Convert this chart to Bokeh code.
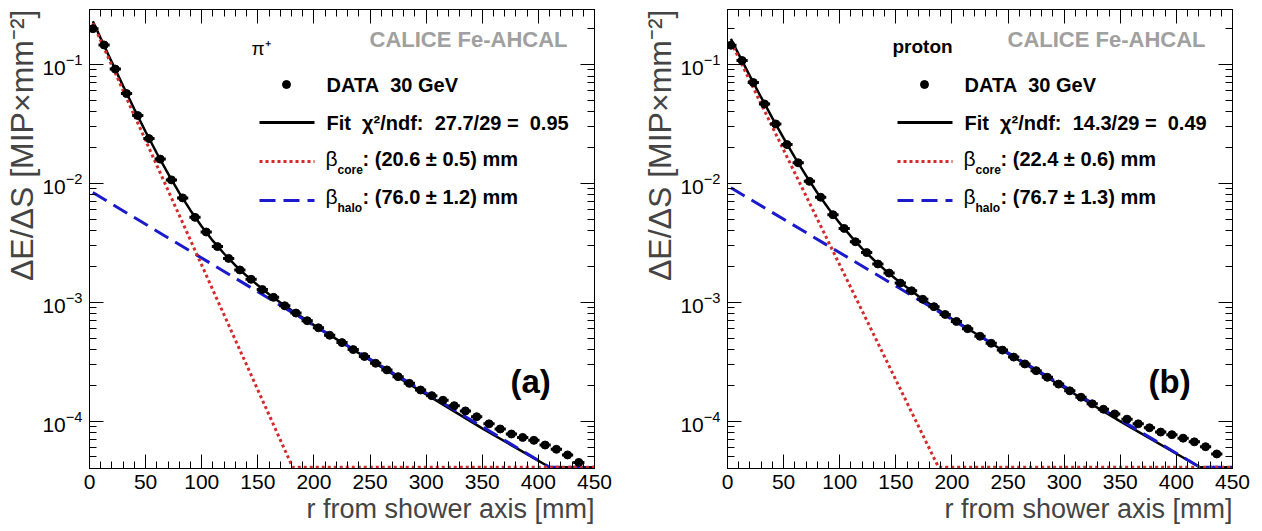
import math
from bokeh.plotting import figure
from bokeh.layouts import row
from bokeh.models import (Range1d, FixedTicker, LinearAxis, LogAxis, Label,
                          CustomJSTickFormatter, LogTickFormatter, Title)
from bokeh.embed import file_html
from bokeh.resources import INLINE

# ---------------- data ----------------
r_bins = [3, 13, 23, 33, 43, 53, 63, 73, 83, 94, 104, 114, 124, 134, 144, 154,
          164, 174, 184, 194, 204, 214, 225, 235, 245, 255, 265, 275, 285, 295,
          305, 315, 325, 335, 345, 356, 366, 376, 386, 396, 406, 416, 426, 436]
bin_half_width = 5

pion_data = [0.200, 0.146, 0.0915, 0.0570, 0.0372, 0.0238, 0.0160, 0.0107,
             0.00755, 0.00518, 0.00390, 0.00294, 0.00234, 0.00187, 0.00156,
             0.00128, 0.00110, 0.000935, 0.000812, 0.000700, 0.000610,
             0.000528, 0.000458, 0.000400, 0.000350, 0.000307, 0.000270,
             0.000237, 0.000208, 0.000183, 0.000164, 0.000150, 0.000135,
             0.000122, 0.000109, 9.5e-5, 8.6e-5, 7.8e-5, 7.3e-5, 6.9e-5,
             6.3e-5, 5.8e-5, 5.2e-5, 4.5e-5]

proton_data = [0.145, 0.108, 0.0705, 0.0465, 0.0316, 0.0212, 0.0149, 0.0104,
               0.00765, 0.00545, 0.00418, 0.00323, 0.00262, 0.00210, 0.00176,
               0.00145, 0.00125, 0.00106, 0.000918, 0.000790, 0.000690,
               0.000600, 0.000518, 0.000452, 0.000396, 0.000346, 0.000303,
               0.000266, 0.000234, 0.000205, 0.000180, 0.000159, 0.000140,
               0.000126, 0.000115, 0.000104, 9.5e-5, 8.8e-5, 8.1e-5, 7.7e-5,
               7.2e-5, 6.7e-5, 6.1e-5, 5.3e-5]

# fit curves (total fit, core and halo components)
pion_fit_r = [3, 10, 20, 30, 40, 50, 60, 70, 80, 90, 100, 110, 120, 130, 140,
              150, 160, 170, 180, 200, 250, 300, 350, 410, 450]
pion_fit = [0.2307, 0.1658, 0.1041, 0.0658, 0.0420, 0.0272, 0.01793, 0.01207,
            0.00833, 0.00592, 0.00434, 0.00328, 0.00256, 0.00204, 0.00167,
            0.00139, 0.00117, 0.000997, 0.000856, 0.000643, 0.000326,
            0.000168, 8.7e-5, 4.1e-5, 4.1e-5]
pion_core_r = [3, 181, 450]
pion_core = [0.2223, 4.1e-5, 4.1e-5]
pion_halo_r = [3, 410, 450]
pion_halo = [0.00837, 4.1e-5, 4.1e-5]

proton_fit_r = [3, 10, 20, 30, 40, 50, 60, 70, 80, 90, 100, 110, 120, 130, 140,
                150, 160, 170, 180, 200, 250, 300, 350, 421, 450]
proton_fit = [0.1641, 0.1216, 0.0798, 0.0528, 0.0354, 0.0240, 0.01652,
              0.01161, 0.00834, 0.00614, 0.00463, 0.00358, 0.00283, 0.00229,
              0.00188, 0.00157, 0.00133, 0.00113, 0.000971, 0.000727,
              0.000369, 0.000191, 9.96e-5, 4.1e-5, 4.1e-5]
proton_core_r = [3, 188, 450]
proton_core = [0.1549, 4.1e-5, 4.1e-5]
proton_halo_r = [3, 421, 450]
proton_halo = [0.00918, 4.1e-5, 4.1e-5]

x_ticks = [0, 50, 100, 150, 200, 250, 300, 350, 400, 450]
y_ticks = [1e-4, 1e-3, 1e-2, 1e-1]

# ---------------- layout / style ----------------
FONT = "Liberation Sans"
Y_LO, Y_HI = 4e-5, 0.29
X_LO, X_HI = 0, 450
# frame geometry in panel pixels
FRAME_L, FRAME_T, FRAME_W, FRAME_H = 88, 9, 505, 459
RED = "#d42a2a"
BLUE = "#1a1acc"
NB = "\u00a0"


def px2data(px, py):
    x = X_LO + (px - FRAME_L) / FRAME_W * (X_HI - X_LO)
    lo, hi = math.log10(Y_LO), math.log10(Y_HI)
    ly = lo + (FRAME_T + FRAME_H - py) / FRAME_H * (hi - lo)
    return x, 10 ** ly


def label(p, px, py, text, size, bold=True, align="left", color="black"):
    x, y = px2data(px, py)
    p.add_layout(Label(x=x, y=y, text=text, text_font=FONT,
                       text_font_size=f"{size}px",
                       text_font_style="bold" if bold else "normal",
                       text_align=align, text_baseline="middle",
                       text_color=color))


def sample_line(p, py, **kw):
    x0, y = px2data(258, py)
    x1, _ = px2data(313, py)
    p.line([x0, x1], [y, y], **kw)


y_minor = []
for e in range(-5, 0):
    for m in range(2, 10):
        v = m * 10 ** e
        if Y_LO <= v <= Y_HI:
            y_minor.append(v)
x_minor = list(range(0, 451, 10))


def style_axis(ax, show_labels):
    ax.axis_line_color = "black"
    ax.axis_line_width = 1
    ax.major_tick_in = 14
    ax.major_tick_out = 0
    ax.minor_tick_in = 7
    ax.minor_tick_out = 0
    ax.major_tick_line_color = "black"
    ax.minor_tick_line_color = "black"
    ax.major_label_text_font = FONT
    ax.major_label_text_font_size = "21px"
    ax.major_label_text_color = "black"
    if not show_labels:
        ax.formatter = CustomJSTickFormatter(code="return ''")
        ax.major_label_standoff = 0


def make_panel(data, fit_r, fit_y, core_r, core_y, halo_r, halo_y,
               particle, particle_px, fit_text, core_text, halo_text, tag,
               border_left, border_right):
    p = figure(frame_width=FRAME_W, frame_height=FRAME_H,
               x_range=Range1d(X_LO, X_HI), y_range=Range1d(Y_LO, Y_HI),
               y_axis_type="log", output_backend="svg", toolbar_location=None,
               min_border_left=border_left, min_border_right=border_right,
               min_border_top=FRAME_T, min_border_bottom=60)
    p.grid.visible = False
    p.outline_line_color = "black"
    p.outline_line_width = 1
    p.background_fill_color = "white"
    p.border_fill_color = "white"

    xt = FixedTicker(ticks=x_ticks, minor_ticks=x_minor)
    yt = FixedTicker(ticks=y_ticks, minor_ticks=y_minor)
    p.xaxis.ticker = xt
    p.yaxis.ticker = yt
    p.yaxis.formatter = LogTickFormatter()
    for ax in p.xaxis:
        style_axis(ax, True)
        ax.major_label_standoff = 6
    for ax in p.yaxis:
        style_axis(ax, True)
        ax.major_label_standoff = 7

    top = LinearAxis(ticker=xt)
    style_axis(top, False)
    p.add_layout(top, "above")
    right = LogAxis(ticker=yt)
    style_axis(right, False)
    p.add_layout(right, "right")

    # axis titles (right/top aligned as in the original)
    p.add_layout(Title(text="r from shower axis [mm]", align="right",
                       text_font=FONT, text_font_size="27px",
                       text_font_style="normal", standoff=0), "below")
    p.add_layout(Title(text="ΔE/ΔS [MIP×mm⁻²]", align="right",
                       text_font=FONT, text_font_size="32px",
                       text_font_style="normal", standoff=0), "left")

    # curves
    p.line(fit_r, fit_y, line_color="black", line_width=2.5)
    p.line(halo_r, halo_y, line_color=BLUE, line_width=3, line_dash="16 8")
    p.line(core_r, core_y, line_color=RED, line_width=3, line_dash="3 3")

    # data points with bin-width bars
    p.segment(x0=[r - bin_half_width for r in r_bins],
              x1=[r + bin_half_width for r in r_bins],
              y0=data, y1=data, line_color="black", line_width=3)
    p.scatter(r_bins, data, size=8, color="black")

    # legend
    label(p, particle_px[0], particle_px[1], particle, 19,
          bold=(particle == "proton"))
    label(p, 368, 39, "CALICE Fe-AHCAL", 22, color="#a0a0a0")
    mx, my = px2data(285, 84)
    p.scatter([mx], [my], size=8, color="black")
    label(p, 325, 84, f"DATA{NB}{NB}30 GeV", 20)
    sample_line(p, 122, line_color="black", line_width=3)
    label(p, 325, 122, fit_text, 20)
    sample_line(p, 161, line_color=RED, line_width=3, line_dash="3 3")
    label(p, 324, 158, "β", 21, bold=False)
    label(p, 336, 169, "core", 12)
    label(p, 361, 158, core_text, 20)
    sample_line(p, 200, line_color=BLUE, line_width=3, line_dash="16 8")
    label(p, 324, 196, "β", 21, bold=False)
    label(p, 336, 207, "halo", 12)
    label(p, 361, 196, halo_text, 20)
    label(p, 509, 381, tag, 33)
    return p


p1 = make_panel(pion_data, pion_fit_r, pion_fit, pion_core_r, pion_core,
                pion_halo_r, pion_halo, "π⁺", (250, 48),
                f"Fit{NB}{NB}χ²/ndf:{NB}{NB}27.7/29 ={NB}{NB}0.95",
                f": (20.6 ± 0.5) mm", f": (76.0 ± 1.2) mm", "(a)", 89, 44)
p2 = make_panel(proton_data, proton_fit_r, proton_fit, proton_core_r,
                proton_core, proton_halo_r, proton_halo, "proton", (253, 46),
                f"Fit{NB}{NB}χ²/ndf:{NB}{NB}14.3/29 ={NB}{NB}0.49",
                f": (22.4 ± 0.6) mm", f": (76.7 ± 1.3) mm", "(b)", 89, 26)

layout = row(p1, p2)
open("out.html", "w").write(file_html(layout, INLINE))
